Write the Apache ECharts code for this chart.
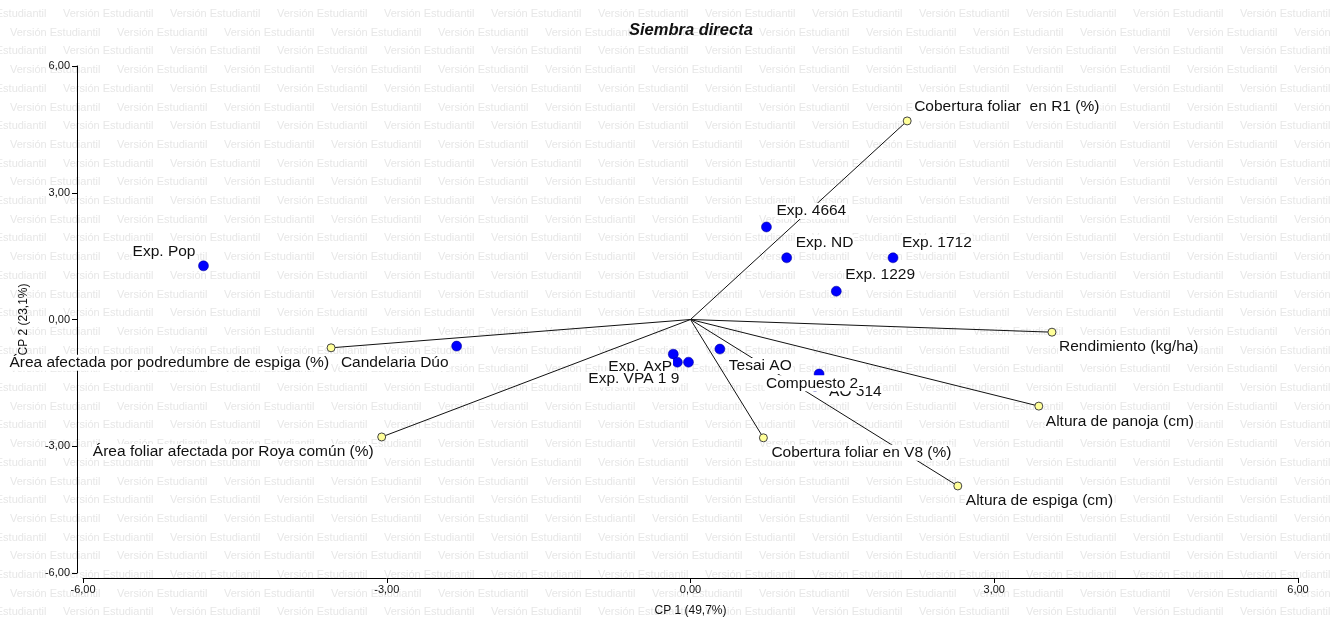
<!DOCTYPE html>
<html>
<head>
<meta charset="utf-8">
<script src="https://cdn.jsdelivr.net/npm/echarts@6/dist/echarts.min.js"></script>
<style>html,body{margin:0;padding:0;background:#fff}#c{width:1333px;height:626px}</style>
</head>
<body>
<div id="c"></div>
<script>
// ---- Data ----
const chartTitle = 'Siembra directa';
const xAxisName = 'CP 1 (49,7%)';
const yAxisName = 'CP 2 (23,1%)';
const axisTicks = [-6, -3, 0, 3, 6];

// Observations (cultivars)
const obsNames = ['Exp. Pop', 'Candelaria Dúo', 'Exp. 4664', 'Exp. ND', 'Exp. 1712', 'Exp. 1229',
  'Tesai AO', 'Exp. AxP', '', 'Exp. VPA 1 9', 'AO 514', 'Compuesto 2'];
const obsX = [-4.81, -2.31, 0.75, 0.95, 2.00, 1.44, 0.29, -0.17, -0.02, -0.13, 1.27, 1.23];
const obsY = [1.27, -0.63, 2.19, 1.46, 1.46, 0.67, -0.70, -0.82, -1.01, -1.01, -1.29, -1.58];

// Variables (biplot vectors)
const varNames = ['Cobertura foliar  en R1 (%)', 'Rendimiento (kg/ha)', 'Altura de panoja (cm)',
  'Altura de espiga (cm)', 'Cobertura foliar en V8 (%)', 'Área foliar afectada por Roya común (%)',
  'Área afectada por podredumbre de espiga (%)'];
const varX = [2.14, 3.57, 3.44, 2.64, 0.72, -3.05, -3.55];
const varY = [4.70, -0.30, -2.05, -3.94, -2.80, -2.78, -0.67];

// Label layout (align, dx, dy) — styling only
const obsLabelLayout = [['right', -7, -14], ['right', -7, 17], ['left', 9, -16], ['left', 8, -15],
  ['left', 8, -15], ['left', 8, -16], ['left', 8, 17], ['left', -66, 13], ['left', 0, 0],
  ['right', 3, 17], ['left', 9, 18], ['left', -50, -3]];
const varLabelLayout = [['left', 6, -14], ['left', 6, 15], ['left', 6, 16], ['left', 7, 15],
  ['left', 7, 15], ['right', -7, 15], ['right', -1, 15]];

const FONT = "'Liberation Sans', Arial, sans-serif";
const fmt = v => v.toFixed(2).replace('.', ',');

// Watermark
const wm = [];
for (let r = 0; r < 34; r++) {
  const y = 14 + r * 18.7;
  const off = (r % 2 === 0) ? -44 : 10;
  for (let k = 0; k < 14; k++) {
    wm.push({type: 'text', silent: true, z: -10,
      style: {text: 'Versión Estudiantil', x: off + k * 107, y: y, fill: '#e7e7e7',
        font: '11px ' + FONT, verticalAlign: 'middle'}});
  }
}

function lbl(layout) {
  return {show: true, position: 'inside', align: layout[0], verticalAlign: 'middle',
    offset: [layout[1], layout[2]], color: '#111', fontSize: 15.5, fontFamily: FONT,
    backgroundColor: '#fff', padding: [0, 1]};
}

const lineSeries = varNames.map((n, i) => ({
  type: 'line', z: 1, symbol: 'none', silent: true, animation: false,
  lineStyle: {color: '#111', width: 1},
  data: [[0, 0], [varX[i], varY[i]]]
}));

const chart = echarts.init(document.getElementById('c'));
chart.setOption({
  animation: false,
  backgroundColor: '#fff',
  graphic: wm,
  title: {text: chartTitle, left: 624, top: 17,
    textStyle: {fontFamily: FONT, fontSize: 16.5, fontWeight: 'bold', fontStyle: 'italic', color: '#111'}},
  grid: {left: 83, right: 35, top: 66, bottom: 53},
  xAxis: {type: 'value', min: -6, max: 6, interval: 3, offset: 5,
    name: xAxisName, nameLocation: 'middle', nameGap: 27,
    nameTextStyle: {fontFamily: FONT, fontSize: 12, color: '#111'},
    axisLine: {onZero: false, lineStyle: {color: '#000', width: 1}},
    axisTick: {show: true, length: 5, lineStyle: {color: '#000'}},
    axisLabel: {fontFamily: FONT, fontSize: 11, color: '#111', margin: 6,
      formatter: v => axisTicks.includes(v) ? fmt(v) : ''},
    splitLine: {show: false}},
  yAxis: {type: 'value', min: -6, max: 6, interval: 3, offset: 6,
    name: yAxisName, nameLocation: 'middle', nameGap: 47,
    nameTextStyle: {fontFamily: FONT, fontSize: 12, color: '#111'},
    axisLine: {onZero: false, lineStyle: {color: '#000', width: 1}},
    axisTick: {show: true, length: 5, lineStyle: {color: '#000'}},
    axisLabel: {fontFamily: FONT, fontSize: 11, color: '#111', margin: 7,
      formatter: v => axisTicks.includes(v) ? fmt(v) : ''},
    splitLine: {show: false}},
  series: lineSeries.concat([
    {type: 'scatter', z: 3, symbolSize: 8,
      itemStyle: {color: '#ffff99', borderColor: '#444', borderWidth: 1, opacity: 1},
      data: varNames.map((n, i) => ({name: n, value: [varX[i], varY[i]],
        label: Object.assign(lbl(varLabelLayout[i]), {formatter: n})}))},
    {type: 'scatter', z: 4, symbolSize: 10,
      itemStyle: {color: '#0000ff', borderColor: '#00008a', borderWidth: 0.5, opacity: 1},
      data: obsNames.map((n, i) => ({name: n, value: [obsX[i], obsY[i]],
        label: n ? Object.assign(lbl(obsLabelLayout[i]), {formatter: n}) : {show: false}}))}
  ])
});
</script>
</body>
</html>
